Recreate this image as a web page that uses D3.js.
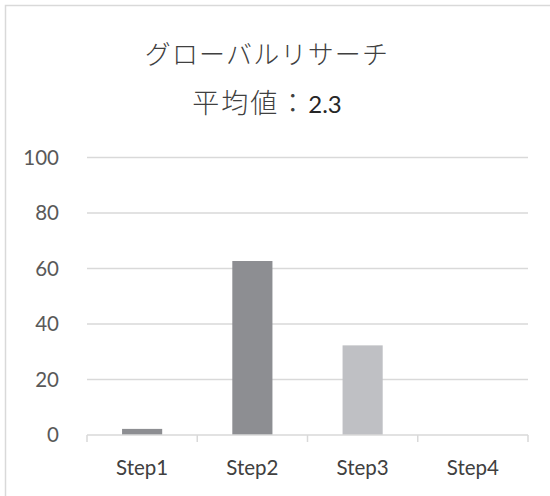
<!DOCTYPE html>
<html>
<head>
<meta charset="utf-8">
<script src="https://cdn.jsdelivr.net/npm/d3@7"></script>
<style>
  html, body { margin: 0; padding: 0; background: #fff; }
  svg { display: block; }
</style>
</head>
<body>
<svg id="chart" width="550" height="496"></svg>
<script>
// Survey result distribution by step
const categories = ["Step1", "Step2", "Step3", "Step4"];
const values = [2.2, 62.7, 32.3, 0];
const barColors = ["#8d8e92", "#8d8e92", "#bfc0c4", "#bfc0c4"];
const yTicks = [0, 20, 40, 60, 80, 100];
const titleLine1 = "グローバルリサーチ";
const titleLabel = "平均値：";
const averageValue = "2.3";

const svg = d3.select("#chart");
const W = 550, H = 496;
const plot = { left: 87, right: 528, top: 157.5, bottom: 435 };

// Chart frame (extends beyond the visible area on the right and bottom)
svg.append("rect")
  .attr("x", 5.5).attr("y", 5.5)
  .attr("width", W + 20).attr("height", H + 20)
  .attr("fill", "#fff").attr("stroke", "#d9d9d9").attr("stroke-width", 1.5);

const x = d3.scaleBand().domain(categories).range([plot.left, plot.right]).padding(0);
const y = d3.scaleLinear().domain([0, 100]).range([plot.bottom, plot.top]);

// Horizontal gridlines
svg.append("g")
  .selectAll("line")
  .data(yTicks.filter(t => t !== 0))
  .join("line")
  .attr("x1", plot.left).attr("x2", plot.right)
  .attr("y1", d => y(d)).attr("y2", d => y(d))
  .attr("stroke", "#d9d9d9").attr("stroke-width", 1.5);

// Y axis labels (no axis line)
const yAxis = d3.axisLeft(y).tickValues(yTicks).tickSize(0).tickPadding(0);
const gy = svg.append("g").attr("transform", `translate(${plot.left - 28},0)`).call(yAxis);
gy.select(".domain").remove();
gy.selectAll("text")
  .attr("fill", "#595959")
  .style("font-family", "Lato, 'Open Sans', sans-serif")
  .style("font-size", "20.5px");

// Bars
const barW = x.bandwidth() * 0.364;
svg.append("g")
  .selectAll("rect")
  .data(values.map((v, i) => ({ c: categories[i], v, col: barColors[i] })))
  .join("rect")
  .attr("x", d => x(d.c) + (x.bandwidth() - barW) / 2)
  .attr("y", d => y(d.v))
  .attr("width", barW)
  .attr("height", d => y(0) - y(d.v))
  .attr("fill", d => d.col);

// X axis with category boundary ticks
svg.append("line")
  .attr("x1", plot.left).attr("x2", plot.right)
  .attr("y1", y(0)).attr("y2", y(0))
  .attr("stroke", "#d9d9d9").attr("stroke-width", 1.5);
const boundaries = categories.map(c => x(c)).concat([plot.right]);
svg.append("g")
  .selectAll("line")
  .data(boundaries)
  .join("line")
  .attr("x1", d => d).attr("x2", d => d)
  .attr("y1", y(0)).attr("y2", y(0) + 7)
  .attr("stroke", "#d9d9d9").attr("stroke-width", 1.5);

const xAxis = d3.axisBottom(x).tickSize(0).tickPadding(0);
const gx = svg.append("g").attr("transform", `translate(0,${y(0) + 25})`).call(xAxis);
gx.select(".domain").remove();
gx.selectAll("text")
  .attr("fill", "#404040")
  .attr("dy", "0.71em")
  .style("font-family", "Lato, 'Open Sans', sans-serif")
  .style("font-size", "20.5px");

// Titles
const cx = 267;
svg.append("text")
  .attr("x", cx).attr("y", 64)
  .attr("text-anchor", "middle")
  .attr("fill", "#404040")
  .style("font-family", "'Noto Sans CJK JP', sans-serif")
  .style("font-weight", 300)
  .style("font-size", "26px")
  .style("letter-spacing", "1.2px")
  .text(titleLine1);

const t2 = svg.append("text")
  .attr("x", cx).attr("y", 113)
  .attr("text-anchor", "middle")
  .attr("fill", "#404040")
  .style("font-family", "'Noto Sans CJK JP', sans-serif")
  .style("font-weight", 300)
  .style("font-size", "27px");
t2.append("tspan").style("letter-spacing", "2px").text(titleLabel);
t2.append("tspan")
  .style("font-family", "Lato, 'Open Sans', sans-serif")
  .style("font-weight", 400)
  .style("font-size", "24px")
  .attr("fill", "#262626")
  .text(averageValue);
</script>
</body>
</html>
